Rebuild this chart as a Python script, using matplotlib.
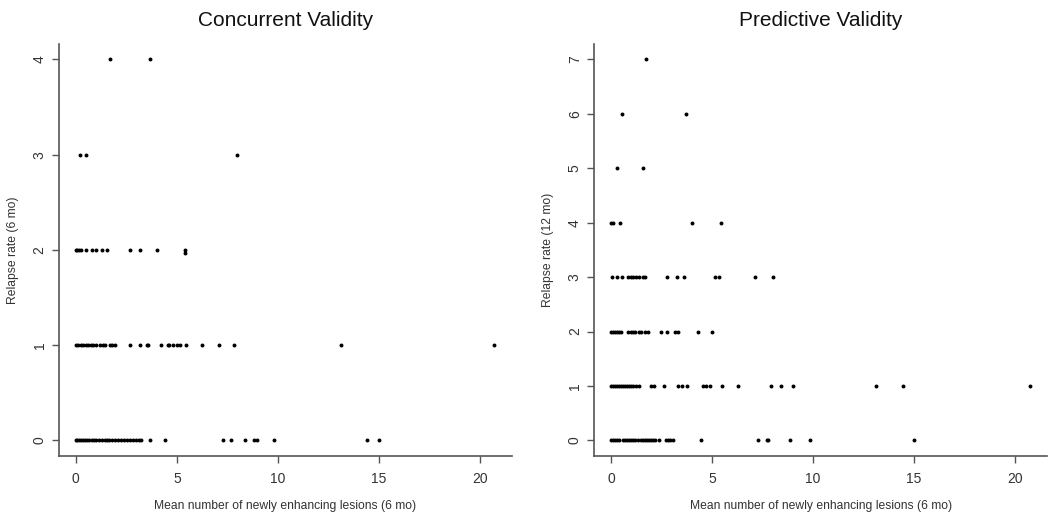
import numpy as np
import matplotlib.pyplot as plt

plt.rcParams['font.family'] = ['Liberation Sans', 'DejaVu Sans']

# Concurrent validity: relapse rate (6 mo) vs mean lesions (6 mo)
conc_x_4 = [1.69, 3.67]
conc_x_3 = [0.2, 0.5, 7.96]
conc_x_2 = [0.0, 0.08, 0.17, 0.25, 0.5, 0.78, 1.0, 1.28, 1.52, 2.7, 3.2, 4.0, 5.4]
conc_x_2b = [5.4]  # slightly below 2
conc_x_1 = [0.0, 0.1, 0.25, 0.35, 0.5, 0.6, 0.75, 0.85, 1.0, 1.2, 1.35, 1.45,
            1.7, 1.8, 1.95, 2.7, 3.2, 3.5, 3.55, 4.2, 4.55, 4.6, 4.8, 5.0, 5.15,
            5.45, 6.25, 7.1, 7.85, 13.1, 20.7]
conc_x_0 = [0.0, 0.05, 0.15, 0.25, 0.35, 0.45, 0.55, 0.65, 0.8, 0.9, 1.0, 1.15,
            1.3, 1.45, 1.55, 1.65, 1.8, 1.95, 2.1, 2.25, 2.4, 2.55, 2.7, 2.85,
            3.0, 3.15, 3.25, 3.67, 4.4, 7.26, 7.7, 8.35, 8.8, 8.95, 9.83, 14.4, 15.0]

# Predictive validity: relapse rate (12 mo) vs mean lesions (6 mo)
pred_x_7 = [1.72]
pred_x_6 = [0.56, 3.7]
pred_x_5 = [0.28, 1.56]
pred_x_4 = [0.0, 0.08, 0.45, 4.0, 5.42]
pred_x_3 = [0.03, 0.28, 0.55, 0.86, 0.98, 1.1, 1.22, 1.36, 1.6, 1.68, 2.77,
            3.27, 3.63, 5.17, 5.35, 7.15, 8.0]
pred_x_2 = [0.0, 0.1, 0.2, 0.3, 0.4, 0.5, 0.85, 1.0, 1.1, 1.2, 1.4, 1.5, 1.7,
            1.85, 2.45, 2.75, 3.15, 3.3, 4.3, 5.0]
pred_x_1 = [0.0, 0.1, 0.2, 0.3, 0.4, 0.5, 0.6, 0.7, 0.8, 0.9, 1.0, 1.1, 1.25,
            1.4, 2.0, 2.15, 2.6, 3.3, 3.5, 3.75, 4.55, 4.7, 4.9, 5.5, 6.3, 7.9,
            8.4, 9.0, 13.1, 14.45, 20.75]
pred_x_0 = [0.0, 0.1, 0.2, 0.3, 0.4, 0.6, 0.7, 0.8, 0.9, 1.0, 1.1, 1.2, 1.35,
            1.5, 1.6, 1.7, 1.8, 1.9, 2.0, 2.1, 2.2, 2.35, 2.7, 2.8, 2.9, 3.05,
            4.46, 7.3, 7.72, 7.78, 8.84, 9.87, 15.0]

conc_rows = [(conc_x_4, 4), (conc_x_3, 3), (conc_x_2, 2), (conc_x_2b, 1.965),
             (conc_x_1, 1), (conc_x_0, 0)]
pred_rows = [(pred_x_7, 7), (pred_x_6, 6), (pred_x_5, 5), (pred_x_4, 4),
             (pred_x_3, 3), (pred_x_2, 2), (pred_x_1, 1), (pred_x_0, 0)]

fig = plt.figure(figsize=(10.5, 5.19), dpi=100)
ax1 = fig.add_axes([0.0562, 0.122, 0.4314, 0.793])
ax2 = fig.add_axes([0.566, 0.122, 0.431, 0.793])

text_col = '#333333'
axis_col = '#555555'


def style(ax, rows, ymax, title, ylabel):
    for xs, yv in rows:
        ax.scatter(xs, [yv] * len(xs), s=8, color='black', linewidths=0)
    ax.set_xlim(-0.83, 21.58)
    ax.set_ylim(-0.04 * ymax, ymax * 1.04)
    ax.set_xticks([0, 5, 10, 15, 20])
    ax.set_yticks(range(ymax + 1))
    for s in ['top', 'right']:
        ax.spines[s].set_visible(False)
    for s in ['left', 'bottom']:
        ax.spines[s].set_color(axis_col)
        ax.spines[s].set_linewidth(1.2)
    ax.tick_params(colors=axis_col, labelcolor=text_col, length=5, width=1,
                   labelsize=10)
    ax.tick_params(axis='x', pad=7)
    ax.tick_params(axis='y', pad=4)
    for lab in ax.get_yticklabels():
        lab.set_rotation(90)
        lab.set_va('center')
    ax.set_title(title, fontsize=15, color='#111111', pad=13)
    ax.set_xlabel('Mean number of newly enhancing lesions (6 mo)',
                  fontsize=8.7, color=text_col, labelpad=10)
    ax.set_ylabel(ylabel, fontsize=8.7, color=text_col, labelpad=10)


style(ax1, conc_rows, 4, 'Concurrent Validity', 'Relapse rate (6 mo)')
style(ax2, pred_rows, 7, 'Predictive Validity', 'Relapse rate (12 mo)')

fig.savefig('out.png', dpi=100)
